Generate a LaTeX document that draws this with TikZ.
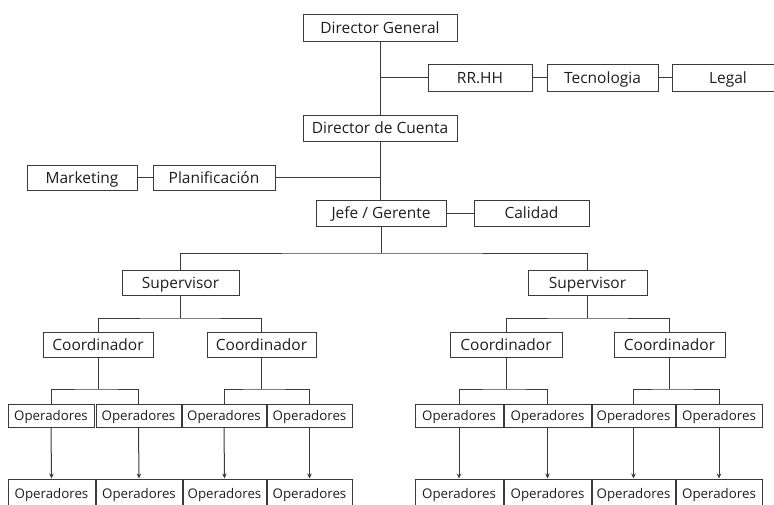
\documentclass[tikz,border=0pt]{standalone}
\usepackage{fontspec}
\setmainfont{Open Sans}
\usetikzlibrary{arrows.meta}
\definecolor{ln}{HTML}{3A3A3A}
\definecolor{tx}{HTML}{1E1E1E}
\tikzset{
  box/.style={draw=ln, line width=1pt, rectangle, inner sep=0pt, text=tx,
    font=\fontsize{15.5}{17}\selectfont, text height=11.1pt, text depth=0pt},
  opbox/.style={box, font=\fontsize{13.3}{15}\selectfont, text height=9.5pt},
  conn/.style={draw=ln, line width=1pt},
  arr/.style={conn, -{Stealth[length=5pt,width=4.5pt]}}
}
\begin{document}
\begin{tikzpicture}[x=1pt,y=-1pt]
\useasboundingbox (0,0) rectangle (774,504);
\clip (0,0) rectangle (774,504);
\fill[white] (0,0) rectangle (774,504);
% top
\node[box, minimum width=154, minimum height=27] (dg) at (380,27.5) {Director General};
\node[box, minimum width=104, minimum height=27] (rrhh) at (480,77.5) {RR.HH};
\node[box, minimum width=111, minimum height=27] (tec) at (602.5,77.5) {Tecnologia};
\node[box, minimum width=112, minimum height=27] (legal) at (728,77.5) {Legal};
\node[box, minimum width=154, minimum height=26] (ddc) at (380,128) {Director de Cuenta};
\node[box, minimum width=110, minimum height=25] (mkt) at (82,177.5) {Marketing};
\node[box, minimum width=122, minimum height=25] (plan) at (214,177.5) {Planificación};
\node[box, minimum width=130, minimum height=26] (jefe) at (381,213) {Jefe / Gerente};
\node[box, minimum width=115, minimum height=26] (cal) at (531.5,213) {Calidad};
% supervisors
\node[box, minimum width=117, minimum height=25] (supL) at (180.5,282.5) {Supervisor};
\node[box, minimum width=119, minimum height=25] (supR) at (587.5,282.5) {Supervisor};
% coordinators
\node[box, minimum width=110, minimum height=25] (c1) at (98,344.5) {Coordinador};
\node[box, minimum width=109, minimum height=25] (c2) at (261.5,344.5) {Coordinador};
\node[box, minimum width=112, minimum height=25] (c3) at (506,344.5) {Coordinador};
\node[box, minimum width=111, minimum height=25] (c4) at (669.5,344.5) {Coordinador};
% operators row 1
\node[opbox, minimum width=86, minimum height=23] (a1) at (51,415.5) {Operadores};
\node[opbox, minimum width=85, minimum height=23] (a2) at (138.5,415.5) {Operadores};
\node[opbox, minimum width=84, minimum height=23] (a3) at (224,415.5) {Operadores};
\node[opbox, minimum width=85, minimum height=23] (a4) at (309.5,415.5) {Operadores};
\node[opbox, minimum width=88, minimum height=23] (a5) at (459,415.5) {Operadores};
\node[opbox, minimum width=87, minimum height=23] (a6) at (547.5,415.5) {Operadores};
\node[opbox, minimum width=83, minimum height=23] (a7) at (633.5,415.5) {Operadores};
\node[opbox, minimum width=86, minimum height=23] (a8) at (719,415.5) {Operadores};
% operators row 2
\node[opbox, minimum width=87, minimum height=29] (b1) at (51.5,493.5) {Operadores};
\node[opbox, minimum width=86, minimum height=29] (b2) at (139,493.5) {Operadores};
\node[opbox, minimum width=83, minimum height=29] (b3) at (224.5,493.5) {Operadores};
\node[opbox, minimum width=85, minimum height=29] (b4) at (309.5,493.5) {Operadores};
\node[opbox, minimum width=88, minimum height=29] (b5) at (459,493.5) {Operadores};
\node[opbox, minimum width=87, minimum height=29] (b6) at (547.5,493.5) {Operadores};
\node[opbox, minimum width=83, minimum height=29] (b7) at (633.5,493.5) {Operadores};
\node[opbox, minimum width=86, minimum height=29] (b8) at (719,493.5) {Operadores};
% branch coordinates
\coordinate (y1) at (0,253);
\coordinate (y2) at (0,318);
\coordinate (y3) at (0,389);
% connectors
\draw[conn] (dg.south) -- (ddc.north);
\draw[conn] (dg.south |- rrhh.west) -- (rrhh.west);
\draw[conn] (rrhh.east) -- (tec.west);
\draw[conn] (tec.east) -- (legal.west);
\draw[conn] (ddc.south) -- (ddc.south |- jefe.north);
\draw[conn] (plan.east) -- (ddc.south |- plan.east);
\draw[conn] (mkt.east) -- (plan.west);
\draw[conn] (jefe.east) -- (cal.west);
\draw[conn] (jefe.south) -- (y1 -| jefe.south);
\draw[conn] (supL.north) |- (y1 -| jefe.south) -| (supR.north);
\draw[conn] (supL.south) -- (y2 -| supL.south);
\draw[conn] (c1.north) |- (y2 -| supL.south) -| (c2.north);
\draw[conn] (supR.south) -- (y2 -| supR.south);
\draw[conn] (c3.north) |- (y2 -| supR.south) -| (c4.north);
\draw[conn] (c1.south) -- (y3 -| c1.south);
\draw[conn] (a1.north) |- (y3 -| c1.south) -| (a2.north);
\draw[conn] (c2.south) -- (y3 -| c2.south);
\draw[conn] (a3.north) |- (y3 -| c2.south) -| (a4.north);
\draw[conn] (c3.south) -- (y3 -| c3.south);
\draw[conn] (a5.north) |- (y3 -| c3.south) -| (a6.north);
\draw[conn] (c4.south) -- (y3 -| c4.south);
\draw[conn] (a7.north) |- (y3 -| c4.south) -| (a8.north);
\foreach \i in {1,...,8} {
  \draw[arr] (a\i.south) -- (b\i.north);
}
\end{tikzpicture}
\end{document}
